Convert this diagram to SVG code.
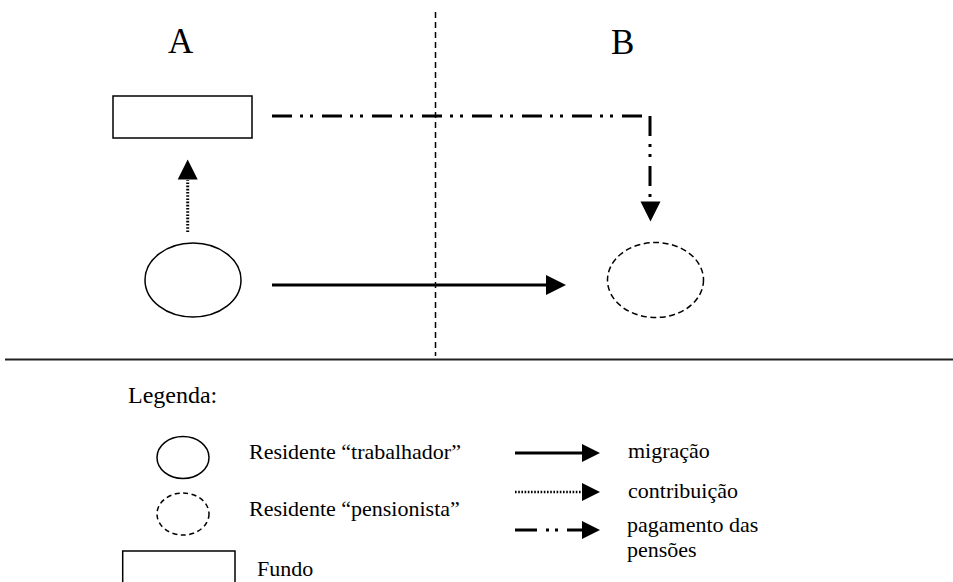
<svg xmlns="http://www.w3.org/2000/svg" width="953" height="582" viewBox="0 0 953 582">
<style>
text { font-family: "Liberation Serif", "Times New Roman", serif; fill: #000; }
.big { font-size: 35px; }
.leg { font-size: 22px; }
.shape { fill: #fff; stroke: #000; stroke-width: 1.5; }
.dashed { stroke-dasharray: 6 3.5; }
.solid { fill: none; stroke: #000; stroke-width: 3; }
.dot { fill: none; stroke: #000; stroke-width: 3; stroke-dasharray: 1.6 1.6; }
.dashdot { fill: none; stroke: #000; stroke-width: 3; stroke-dasharray: 20 8 3 7 3 9; }
.head { fill: #000; }
</style>
<defs>
<marker id="arr" viewBox="0 0 20 20" refX="0" refY="10" markerWidth="20" markerHeight="20" markerUnits="userSpaceOnUse" orient="auto">
<path d="M0,0 L20,10 L0,20 Z" fill="#000"/>
</marker>
<marker id="arrS" viewBox="0 0 18 18" refX="0" refY="9" markerWidth="18" markerHeight="18" markerUnits="userSpaceOnUse" orient="auto">
<path d="M0,0 L18,9 L0,18 Z" fill="#000"/>
</marker>
</defs>

<!-- region divider lines -->
<g id="dividers">
<line x1="435.5" y1="12" x2="435.5" y2="356" stroke="#000" stroke-width="1.5" stroke-dasharray="6 4"/>
<line x1="5" y1="359.5" x2="953" y2="359.5" stroke="#222" stroke-width="2"/>
</g>

<g id="label-A"><text class="big" x="168" y="53">A</text></g>
<g id="label-B"><text class="big" x="611" y="54">B</text></g>

<g id="fundo">
<rect class="shape" x="113" y="96" width="139" height="42"/>
</g>
<g id="trabalhador">
<ellipse class="shape" cx="193" cy="280" rx="48" ry="37"/>
</g>
<g id="pensionista">
<ellipse class="shape dashed" cx="655.5" cy="280" rx="48" ry="37.5"/>
</g>

<g id="connectors">
<path class="dot" d="M187.7,232 V180"/>
<path class="head" d="M177.7,179.5 L187.7,159.5 L197.7,179.5 Z"/>
<path class="solid" d="M272,285 H546" marker-end="url(#arr)"/>
<path class="dashdot" d="M272,116 H650"/>
<path class="dashdot" d="M650,116 V200"/>
<path class="head" d="M640.5,201.5 L660.5,201.5 L650.5,221.5 Z"/>
</g>

<g id="legend">
<text x="128" y="403" style="font-size:24px">Legenda:</text>
<ellipse class="shape" cx="183" cy="457.5" rx="26" ry="21"/>
<text class="leg" x="249" y="459">Residente “trabalhador”</text>
<ellipse class="shape dashed" cx="183" cy="514" rx="26" ry="21" style="stroke-dasharray:5 3.5"/>
<text class="leg" x="249" y="516">Residente “pensionista”</text>
<rect class="shape" x="122.7" y="551" width="112.3" height="45"/>
<text class="leg" x="257" y="576">Fundo</text>

<path class="solid" d="M515,453 H582" marker-end="url(#arrS)"/>
<text class="leg" x="628" y="458">migração</text>
<path class="dot" d="M515,492 H582" style="stroke-width:2.5"/>
<path class="head" d="M582,483 L600,492 L582,501 Z"/>
<text class="leg" x="628" y="498">contribuição</text>
<path class="solid" d="M515,530 H537 M546,530 H549 M555,530 H558 M567,530 H582"/>
<path class="head" d="M582,521 L600,530 L582,539 Z"/>
<text class="leg" x="627" y="532">pagamento das</text>
<text class="leg" x="627" y="557">pensões</text>
</g>
</svg>
